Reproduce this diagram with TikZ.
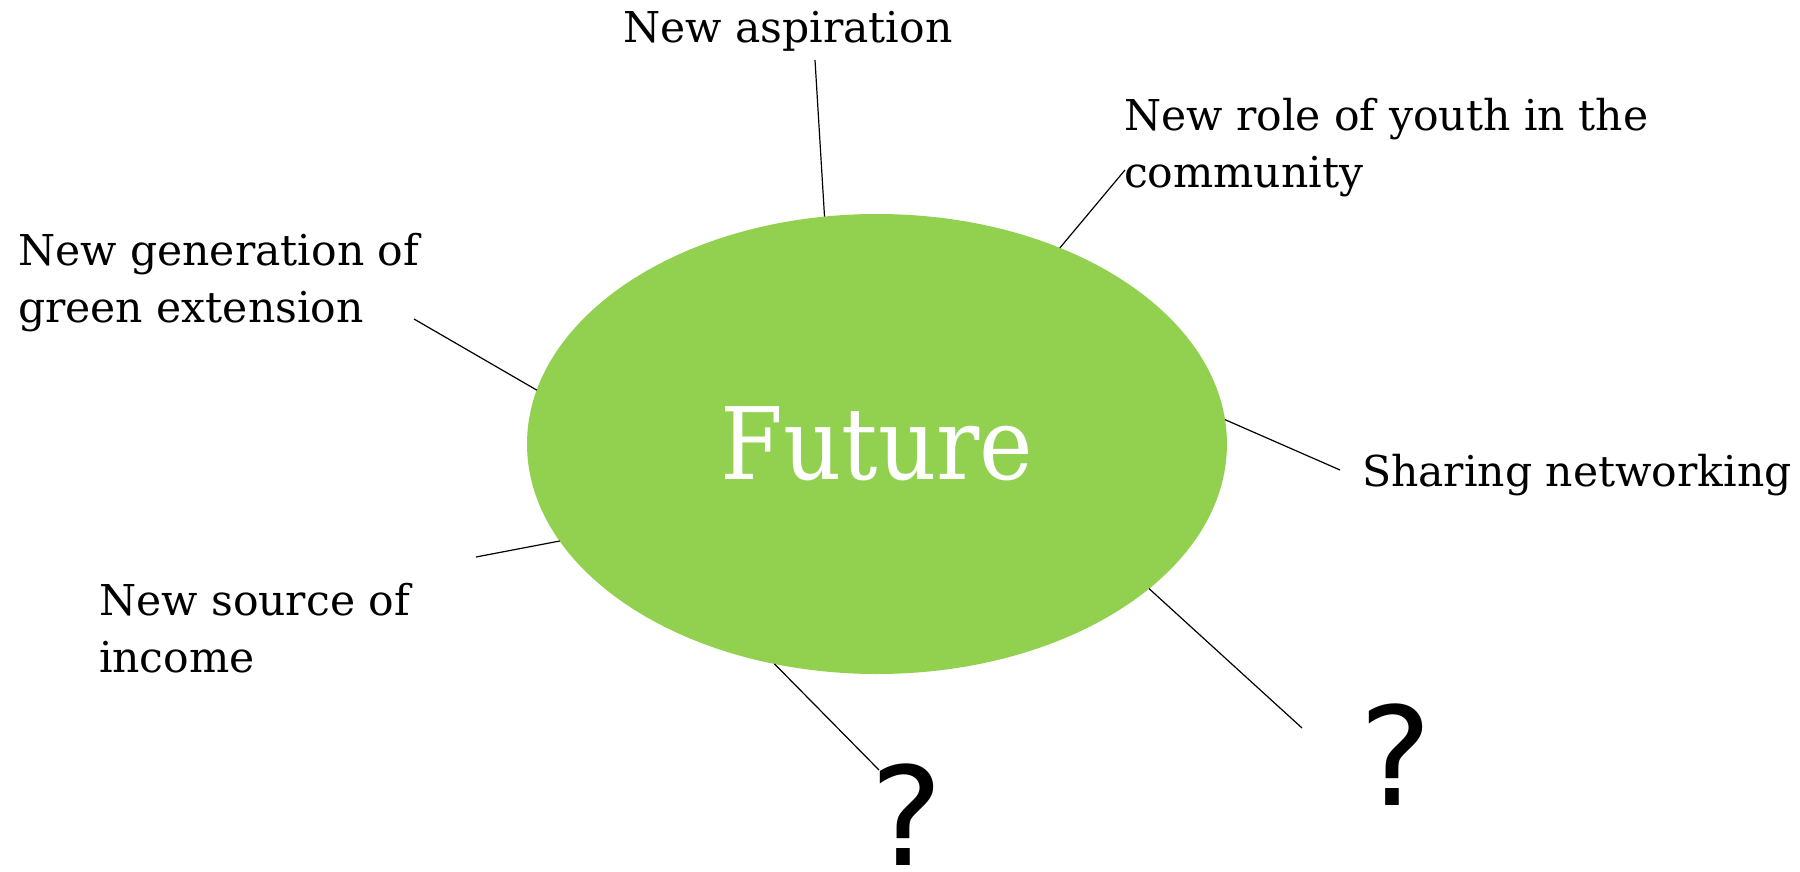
\documentclass[tikz,border=0pt]{standalone}
\usepackage{fontspec}
\setmainfont{DejaVu Serif}
\newfontfamily\qfont{DejaVu Sans}
\usetikzlibrary{shapes.geometric}
\definecolor{futgreen}{RGB}{146,208,80}
\begin{document}
\begin{tikzpicture}[x=1pt,y=-1pt,
  lbl/.style={anchor=base west, inner sep=0, outer sep=0, align=left, font=\fontsize{42.5}{57}\selectfont},
  qmark/.style={anchor=base, inner sep=0, outer sep=0, font=\qfont\fontsize{137}{140}\selectfont},
  conn/.style={line width=1.2pt, black}]
\useasboundingbox (0,0) rectangle (1800,872);
\node[ellipse, fill=futgreen, minimum width=700, minimum height=460, inner sep=0, outer sep=0,
      text=white, font=\fontsize{100}{110}\selectfont] (fut) at (877,444) {\scalebox{0.905}[1]{Future}};
\node[lbl] (asp) at (623,43) {New aspiration};
\node[lbl] (youth) at (1124,187) {New role of youth in the\\community};
\node[lbl] (gen) at (18,322) {New generation of\\green extension};
\node[lbl] (share) at (1362,486) {Sharing networking};
\node[lbl] (src) at (99,672) {New source of\\income};
\node[qmark] (q1) at (907,865) {?};
\node[qmark] (q2) at (1396,805) {?};
\coordinate (asp-end) at (815,60);
\coordinate (youth-end) at (1125,170);
\coordinate (gen-end) at (414,319);
\coordinate (share-end) at (1340,470);
\coordinate (src-end) at (476,557);
\coordinate (q1-end) at (879,770);
\coordinate (q2-end) at (1302,728);
\draw[conn] (fut.103.6) -- (asp-end);
\draw[conn] (fut.47.5) -- (youth-end);
\draw[conn] (fut.171) -- (gen-end);
\draw[conn] (fut.4) -- (share-end);
\draw[conn] (fut.197.4) -- (src-end);
\draw[conn] (fut.245.9) -- (q1-end);
\draw[conn] (fut.332.5) -- (q2-end);
\end{tikzpicture}
\end{document}
